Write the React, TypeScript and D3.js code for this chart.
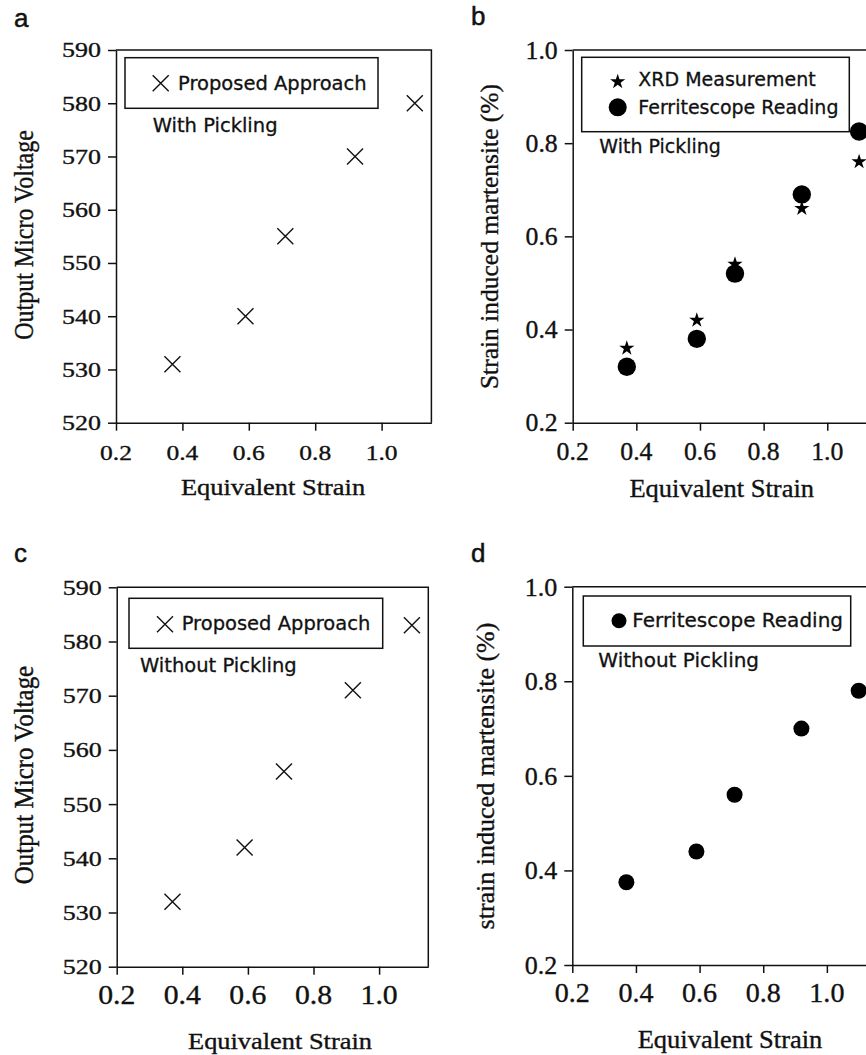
import React, { useEffect, useRef } from "react";
import * as d3 from "d3";

// values
const strain = [0.37, 0.59, 0.71, 0.92, 1.1];
const voltageWithPickling = [531, 540, 555, 570, 580];
const voltageWithoutPickling = [532, 542, 556, 571, 583];
const xrdWithPickling = [0.36, 0.42, 0.54, 0.66, 0.76];
const ferriteWithPickling = [0.32, 0.38, 0.52, 0.69, 0.825];
const ferriteWithoutPickling = [0.375, 0.44, 0.56, 0.7, 0.78];

const strainTicks = [0.2, 0.4, 0.6, 0.8, 1.0];
const voltageTicks = [520, 530, 540, 550, 560, 570, 580, 590];
const martensiteTicks = [0.2, 0.4, 0.6, 0.8, 1.0];

const SERIF = "'Liberation Serif', 'Times New Roman', serif";
const SANS = "'DejaVu Sans', Verdana, sans-serif";

function stretchText(g, x, y, str, opts) {
  const { size, sx = 1, anchor = "start", family = SERIF, rotate = false, weight = 0.35 } = opts;
  const t = g
    .append("text")
    .attr("font-family", family)
    .attr("font-size", size)
    .attr("text-anchor", anchor)
    .attr("fill", "#111")
    .attr("stroke", "#111")
    .attr("stroke-width", weight)
    .text(str);
  if (rotate) t.attr("transform", `translate(${x},${y}) rotate(-90) scale(1,${sx})`);
  else t.attr("transform", `translate(${x},${y}) scale(${sx},1)`);
  return t;
}

function drawMarker(g, kind, cx, cy, size) {
  if (kind === "cross") {
    const s = size;
    g.append("path")
      .attr("d", `M${cx - s},${cy - s}L${cx + s},${cy + s}M${cx - s},${cy + s}L${cx + s},${cy - s}`)
      .attr("stroke", "#111")
      .attr("stroke-width", 1.4)
      .attr("fill", "none");
  } else if (kind === "star") {
    g.append("path")
      .attr("d", d3.symbol(d3.symbolStar, size)())
      .attr("transform", `translate(${cx},${cy})`)
      .attr("fill", "#000");
  } else {
    g.append("circle").attr("cx", cx).attr("cy", cy).attr("r", size).attr("fill", "#000");
  }
}

function drawPanel(svg, p) {
  const g = svg.append("g");
  const x = d3.scaleLinear().domain([0.2, 1.15]).range([p.left, p.left + p.xSpan]);
  const y = d3.scaleLinear().domain(p.yDomain).range([p.bottom, p.top]);
  const right = x.range()[1];

  // frame top + right
  g.append("path")
    .attr("d", `M${p.left},${p.top}H${right}V${p.bottom}`)
    .attr("fill", "none")
    .attr("stroke", "#111")
    .attr("stroke-width", 1.5);

  const xAxis = d3.axisBottom(x).tickValues(strainTicks).tickSize(8).tickSizeOuter(0).tickFormat(() => "");
  const yAxis = d3.axisLeft(y).tickValues(p.yTicks).tickSize(8).tickSizeOuter(0).tickFormat(() => "");
  const gx = g.append("g").attr("transform", `translate(0,${p.bottom})`).call(xAxis);
  const gy = g.append("g").attr("transform", `translate(${p.left},0)`).call(yAxis);
  [gx, gy].forEach(a => {
    a.selectAll("path,line").attr("stroke", "#111").attr("stroke-width", 1.5);
  });

  strainTicks.forEach(t =>
    stretchText(g, x(t), p.bottom + 37, t.toFixed(1), { size: p.xTickSize, sx: p.xTickSx, anchor: "middle" })
  );
  p.yTicks.forEach(t =>
    stretchText(g, p.left - 15, y(t) + p.yTickSize * 0.34, p.yFormat(t), {
      size: p.yTickSize,
      sx: p.yTickSx,
      anchor: "end"
    })
  );

  stretchText(g, p.xTitleX, p.xTitleY, "Equivalent Strain", { size: p.xTitleSize, sx: p.xTitleSx, anchor: "middle" });
  stretchText(g, p.yTitleX, p.yTitleY, p.yTitle, { size: p.yTitleSize, sx: p.yTitleSx, anchor: "middle", rotate: true });

  stretchText(g, p.letterX, p.letterY, p.letter, { size: 26, family: "'Liberation Sans', Arial, sans-serif", weight: 0.5 });

  // data
  p.series.forEach(s => {
    strain.forEach((v, i) => drawMarker(g, s.kind, x(v), y(s.values[i]), s.size));
  });

  // legend
  const L = p.legend;
  g.append("rect")
    .attr("x", p.left + L.x)
    .attr("y", p.top + L.y)
    .attr("width", L.w)
    .attr("height", L.h)
    .attr("fill", "none")
    .attr("stroke", "#111")
    .attr("stroke-width", 1.5);
  L.items.forEach(it => {
    drawMarker(g, it.kind, p.left + L.symX, p.top + it.symY, it.size);
    stretchText(g, p.left + L.textX, p.top + it.textY, it.label, { size: L.fontSize, family: SANS, weight: 0.3 });
  });
  stretchText(g, p.left + L.noteX, p.top + L.noteY, p.note, { size: L.fontSize, family: SANS, weight: 0.3 });
}

export default function App() {
  const svgRef = useRef(null);

  useEffect(() => {
    const svg = d3.select(svgRef.current);
    svg.selectAll("*").remove();

    drawPanel(svg, {
      letter: "a", letterX: 14, letterY: 27,
      left: 116, xSpan: 315.4, top: 50, bottom: 422.7,
      yDomain: [520, 590], yTicks: voltageTicks, yFormat: d => String(d),
      xTickSize: 22, xTickSx: 1.16, yTickSize: 22, yTickSx: 1.18,
      xTitleX: 273, xTitleY: 495, xTitleSize: 23, xTitleSx: 1.15,
      yTitle: "Output Micro Voltage", yTitleX: 33, yTitleY: 235, yTitleSize: 24, yTitleSx: 1.12,
      series: [{ kind: "cross", values: voltageWithPickling, size: 8 }],
      legend: {
        x: 9, y: 7.7, w: 253, h: 50.6, symX: 44.7, textX: 62, noteX: 36.7, noteY: 81.7, fontSize: 19.5,
        items: [{ kind: "cross", size: 8, symY: 33.3, textY: 39.5, label: "Proposed Approach" }]
      },
      note: "With Pickling"
    });

    drawPanel(svg, {
      letter: "b", letterX: 471, letterY: 25,
      left: 572.7, xSpan: 302.3, top: 50, bottom: 422.7,
      yDomain: [0.2, 1.0], yTicks: martensiteTicks, yFormat: d => d.toFixed(1),
      xTickSize: 25, xTickSx: 1.03, yTickSize: 25, yTickSx: 1.03,
      xTitleX: 721.7, xTitleY: 496.7, xTitleSize: 25, xTitleSx: 1.06,
      yTitle: "Strain induced martensite (%)", yTitleX: 498, yTitleY: 236.5, yTitleSize: 25.5, yTitleSx: 1.0,
      series: [
        { kind: "star", values: xrdWithPickling, size: 72 },
        { kind: "circle", values: ferriteWithPickling, size: 9.2 }
      ],
      legend: {
        x: 9, y: 7.3, w: 267.6, h: 74.4, symX: 45, textX: 65.6, noteX: 26.6, noteY: 103, fontSize: 19,
        items: [
          { kind: "star", size: 72, symY: 31.7, textY: 36, label: "XRD Measurement" },
          { kind: "circle", size: 9, symY: 57.3, textY: 64, label: "Ferritescope Reading" }
        ]
      },
      note: "With Pickling"
    });

    drawPanel(svg, {
      letter: "c", letterX: 14, letterY: 562,
      left: 116.7, xSpan: 311.6, top: 587.3, bottom: 966.7,
      yDomain: [520, 590], yTicks: voltageTicks, yFormat: d => String(d),
      xTickSize: 27, xTickSx: 1.1, yTickSize: 22, yTickSx: 1.18,
      xTitleX: 280, xTitleY: 1049, xTitleSize: 24, xTitleSx: 1.1,
      yTitle: "Output Micro Voltage", yTitleX: 33, yTitleY: 775, yTitleSize: 25, yTitleSx: 1.12,
      series: [{ kind: "cross", values: voltageWithoutPickling, size: 8 }],
      legend: {
        x: 12.3, y: 11, w: 253.7, h: 50, symX: 48.3, textX: 65, noteX: 23.3, noteY: 84.4, fontSize: 19.5,
        items: [{ kind: "cross", size: 8, symY: 37, textY: 42.7, label: "Proposed Approach" }]
      },
      note: "Without Pickling"
    });

    drawPanel(svg, {
      letter: "d", letterX: 471, letterY: 562,
      left: 572.3, xSpan: 302.3, top: 586.7, bottom: 965,
      yDomain: [0.2, 1.0], yTicks: martensiteTicks, yFormat: d => d.toFixed(1),
      xTickSize: 27, xTickSx: 1.04, yTickSize: 26, yTickSx: 1.0,
      xTitleX: 730, xTitleY: 1048, xTitleSize: 25, xTitleSx: 1.06,
      yTitle: "strain induced martensite (%)", yTitleX: 494, yTitleY: 776, yTitleSize: 26, yTitleSx: 1.0,
      series: [{ kind: "circle", values: ferriteWithoutPickling, size: 8 }],
      legend: {
        x: 11, y: 9.3, w: 267.4, h: 50, symX: 46.7, textX: 60, noteX: 26, noteY: 80.6, fontSize: 20,
        items: [{ kind: "circle", size: 7.5, symY: 34, textY: 40, label: "Ferritescope Reading" }]
      },
      note: "Without Pickling"
    });
  }, []);

  return (
    <svg
      ref={svgRef}
      width={866}
      height={1055}
      style={{ position: "absolute", left: 0, top: 0, background: "#fff" }}
    />
  );
}
